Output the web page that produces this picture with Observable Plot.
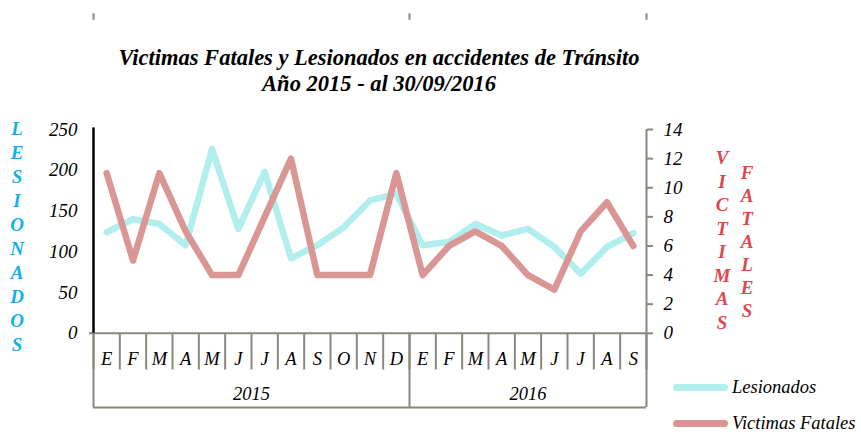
<!DOCTYPE html>
<html>
<head>
<meta charset="utf-8">
<script src="https://cdn.jsdelivr.net/npm/d3@7"></script>
<script src="https://cdn.jsdelivr.net/npm/@observablehq/plot@0.6"></script>
<style>
  html, body { margin: 0; padding: 0; background: #fff; }
  #wrap { position: relative; width: 861px; height: 432px; overflow: hidden; font-family: "Liberation Serif", serif; }
  #chart { position: absolute; left: 0; top: 0; }
  .title { position: absolute; left: 0; width: 758px; text-align: center; font-weight: bold; font-style: italic; font-size: 22.5px; color: #000; white-space: nowrap; }
  .vlab { position: absolute; font-weight: bold; font-style: italic; font-size: 19px; text-align: center; width: 22px; }
  .leg { position: absolute; font-style: italic; font-size: 18.5px; line-height: 14px; white-space: nowrap; }
  .legline { position: absolute; height: 7px; border-radius: 3.5px; width: 55px; }
</style>
</head>
<body>
<div id="wrap">
  <div id="chart"></div>
  <div class="title" style="top:45px">Victimas Fatales y Lesionados en accidentes de Tránsito</div>
  <div class="title" style="top:71px">Año 2015 - al 30/09/2016</div>
</div>
<script>
// ---- data ----
const months = ["E","F","M","A","M","J","J","A","S","O","N","D","E","F","M","A","M","J","J","A","S"];
const years = ["2015", "2016"];
const yearMonths = [12, 9];
const lesionados = [124, 140, 134, 108, 226, 128, 198, 92, 108, 130, 163, 171, 108, 112, 134, 120, 128, 106, 73, 106, 123];
const victimasFatales = [11, 5, 11, 7, 4, 4, 8, 12, 4, 4, 4, 11, 4, 6, 7, 6, 4, 3, 7, 9, 6];
const leftTicks = [0, 50, 100, 150, 200, 250];
const rightTicks = [0, 2, 4, 6, 8, 10, 12, 14];
const leftMax = 250, rightMax = 14;
const leftTitle = "LESIONADOS";
const rightTitle1 = "VICTIMAS";
const rightTitle2 = "FATALES";
const seriesNames = ["Lesionados", "Victimas Fatales"];
const colors = { les: "#b1eeee", vf: "#d99694", axis: "#88887e", blue: "#0fb0ee", red: "#e0464e" };

// ---- build ----
const k = leftMax / rightMax;
const rowsL = lesionados.map((v, i) => ({ i: i + 0.5, v }));
const rowsV = victimasFatales.map((v, i) => ({ i: i + 0.5, v: v * k }));
const monthRows = months.map((m, i) => ({ i: i + 0.5, m }));
let acc = 0;
const yearRows = years.map((y, j) => { const r = { x: acc + yearMonths[j] / 2, y }; acc += yearMonths[j]; return r; });
const yearBounds = [0]; { let s = 0; for (const n of yearMonths) { s += n; yearBounds.push(s); } }
const N = months.length;
const bottomY = -91, monthRowY = -45, monthLabY = -31, yearLabY = -74;

const plot = Plot.plot({
  width: 861,
  height: 432,
  marginLeft: 93,
  marginRight: 215,
  marginTop: 129,
  marginBottom: 25,
  style: { fontFamily: "'Liberation Serif', serif", fontSize: "19px", fontStyle: "italic", overflow: "visible" },
  x: { type: "linear", domain: [0, N], axis: null },
  y: { type: "linear", domain: [bottomY, leftMax], axis: null },
  marks: [
    // category box
    Plot.ruleX(d3.range(N + 1), { y1: 0, y2: monthRowY, stroke: colors.axis, strokeWidth: 2 }),
    Plot.ruleX(yearBounds, { y1: 0, y2: bottomY, stroke: colors.axis, strokeWidth: 2 }),
    Plot.ruleY([0], { x1: -0.15, x2: N, stroke: colors.axis, strokeWidth: 2 }),
    Plot.ruleY([bottomY], { x1: 0, x2: N, stroke: colors.axis, strokeWidth: 2 }),
    // top stray marks
    Plot.ruleX(yearBounds, { y1: 384, y2: 392, stroke: colors.axis, strokeWidth: 2 }),
    // right axis
    Plot.ruleX([N], { y1: 0, y2: leftMax, stroke: colors.axis, strokeWidth: 2 }),
    Plot.axisY(rightTicks.map(t => t * k), {
      anchor: "right", tickSize: 6, tickPadding: 11, stroke: colors.axis, strokeWidth: 2,
      tickFormat: d => String(Math.round(d / k)), fill: "#000", fontSize: 19, fontStyle: "italic", label: null
    }),
    // left axis
    Plot.axisY(leftTicks, { anchor: "left", tickSize: 0, tickPadding: 16, fill: "#000", fontSize: 19, fontStyle: "italic", label: null }),
    Plot.ruleX([0], { y1: 0, y2: leftMax + 2, stroke: "#000", strokeWidth: 2.5 }),
    // series
    Plot.line(rowsL, { x: "i", y: "v", stroke: colors.les, strokeWidth: 6.5, strokeLinejoin: "round", strokeLinecap: "round" }),
    Plot.line(rowsV, { x: "i", y: "v", stroke: colors.vf, strokeWidth: 6.5, strokeLinejoin: "round", strokeLinecap: "round" }),
    // category labels
    Plot.text(monthRows, { x: "i", y: () => monthLabY, text: "m", fontSize: 18.5, fontStyle: "italic", fill: "#000" }),
    Plot.text(yearRows, { x: "x", y: () => yearLabY, text: "y", fontSize: 18.5, fontStyle: "italic", fill: "#000" })
  ]
});
document.getElementById("chart").appendChild(plot);

// vertical axis titles and legend (HTML text)
const wrap = document.getElementById("wrap");
function vtext(str, left, top, lh, color) {
  const d = document.createElement("div");
  d.className = "vlab";
  d.style.left = left + "px"; d.style.top = top + "px"; d.style.lineHeight = lh + "px"; d.style.color = color;
  d.innerHTML = str.split("").join("<br>");
  wrap.appendChild(d);
}
vtext(leftTitle, 6, 117, 24, colors.blue);
vtext(rightTitle1, 711, 146, 23.5, colors.red);
vtext(rightTitle2, 736, 161, 23, colors.red);

function legend(name, color, y) {
  const l = document.createElement("div");
  l.className = "legline"; l.style.left = "673px"; l.style.top = (y - 3.5) + "px"; l.style.background = color;
  wrap.appendChild(l);
  const t = document.createElement("div");
  t.className = "leg"; t.style.left = "732px"; t.style.top = (y - 7) + "px"; t.textContent = name;
  wrap.appendChild(t);
}
legend(seriesNames[0], colors.les, 387);
legend(seriesNames[1], colors.vf, 423);
</script>
</body>
</html>
